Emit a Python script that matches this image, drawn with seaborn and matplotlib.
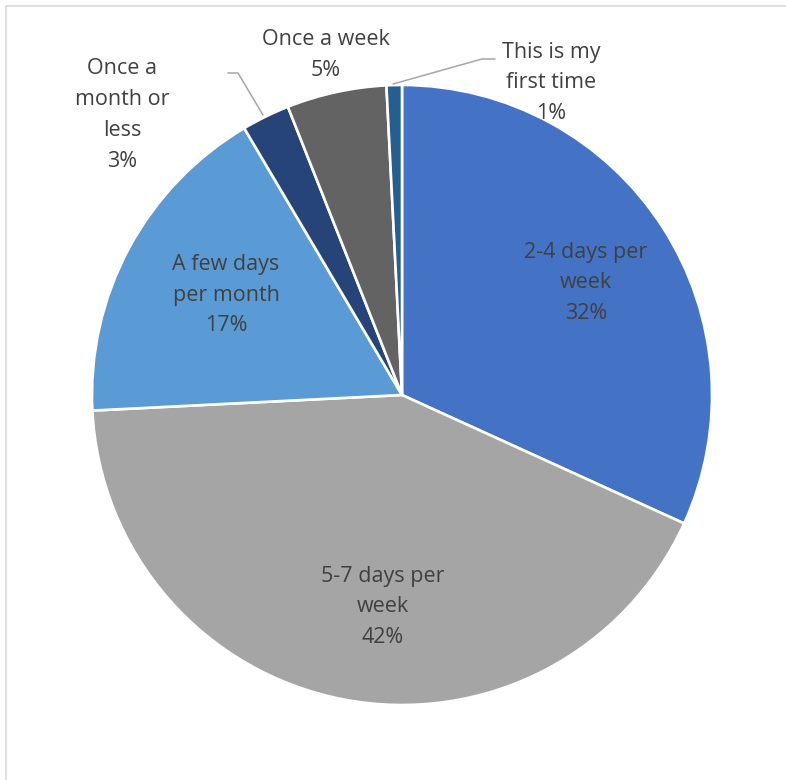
import matplotlib
matplotlib.use("Agg")
import matplotlib.pyplot as plt
import seaborn as sns
from matplotlib.patches import Rectangle

categories = ["2-4 days per week", "5-7 days per week", "A few days per month",
              "Once a month or less", "Once a week", "This is my first time"]
values = [31.8, 42.4, 17.3, 2.5, 5.2, 0.8]
pct_labels = ["32%", "42%", "17%", "3%", "5%", "1%"]
label_text = ["2-4 days per\nweek", "5-7 days per\nweek", "A few days\nper month",
              "Once a\nmonth or\nless", "Once a week", "This is my\nfirst time"]
colors = ["#4472C4", "#A5A5A5", "#5B9BD5", "#264478", "#636363", "#255E91"]

sns.set_theme(style="white")
plt.rcParams['font.family'] = ['Open Sans', 'DejaVu Sans']

W, H = 786, 780
fig = plt.figure(figsize=(W / 100, H / 100), dpi=100)
fig.patch.set_facecolor("white")

# chart border (cropped on right/bottom)
fig.patches.append(Rectangle((6 / W, -0.1), 1.2, 1 - 6 / H + 0.1, transform=fig.transFigure,
                             fill=False, edgecolor="#D9D9D9", linewidth=1.2))

cx, cy, r = 402, 395, 310
ax = fig.add_axes([(cx - r) / W, (H - cy - r) / H, 2 * r / W, 2 * r / H])
ax.pie(values, colors=colors, startangle=90, counterclock=False, radius=1.0,
       wedgeprops=dict(edgecolor="white", linewidth=1.9))
ax.set_xlim(-1, 1)
ax.set_ylim(-1, 1)
ax.set_aspect("equal")
ax.axis("off")

def d(px, py):
    return (px - cx) / r, (cy - py) / r

label_pos = [(586, 283), (383, 607), (226, 295), (122, 115), (326, 55), (551, 83)]
for txt, pct, (px, py) in zip(label_text, pct_labels, label_pos):
    x, y = d(px, py)
    ax.text(x, y, txt + "\n" + pct, ha="center", va="center", fontsize=15.5,
            color="#404040", linespacing=1.62, clip_on=False)

# leader lines
for pts in ([(228, 73), (238, 73), (263, 115)], [(393, 84), (482, 59), (495, 59)]):
    xs, ys = zip(*[d(*p) for p in pts])
    ax.plot(xs, ys, color="#A6A6A6", linewidth=1.1, clip_on=False)

fig.savefig("out.png", dpi=100, facecolor="white")
